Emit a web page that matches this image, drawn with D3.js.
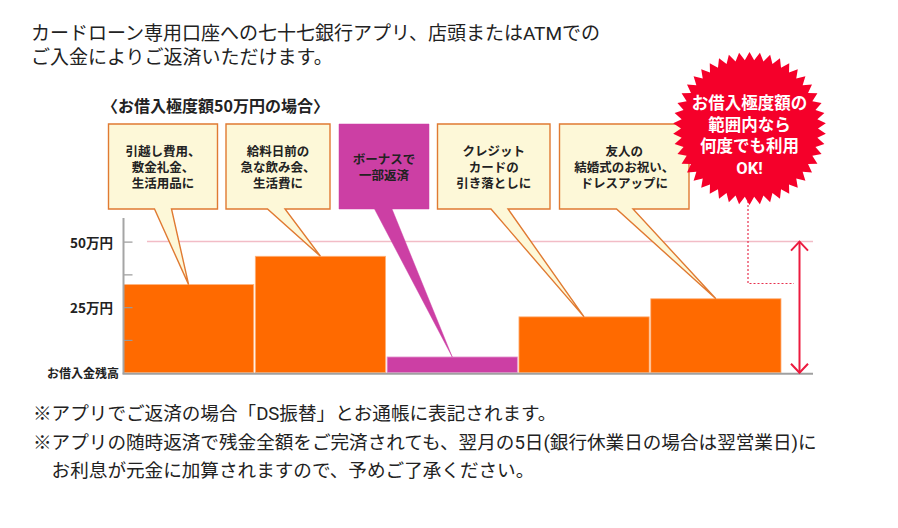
<!DOCTYPE html>
<html><head><meta charset="utf-8">
<script src="https://cdn.jsdelivr.net/npm/d3@7"></script>
<style>
html,body{margin:0;padding:0;background:#fff;}
svg{display:block;font-family:"Noto Sans CJK JP","Noto Sans",sans-serif;}
.ml{font-family:Roboto,"Noto Sans CJK JP",sans-serif;}
</style></head>
<body>
<svg id="c" width="898" height="528"></svg>
<script>
// ---- data ----
const categories = ["引越し", "給料日前", "ボーナス", "クレジット", "友人"];
const balances = [33.6, 44.4, 6.0, 21.3, 28.2];   // 万円
const barKinds = ["borrow", "borrow", "repay", "borrow", "borrow"];
const calloutTexts = [
  ["引越し費用、", "敷金礼金、", "生活用品に"],
  ["給料日前の", "急な飲み会、", "生活費に"],
  ["ボーナスで", "一部返済"],
  ["クレジット", "カードの", "引き落としに"],
  ["友人の", "結婚式のお祝い、", "ドレスアップに"]
];
const limitValue = 50;
const tickValues = [12.5, 25, 37.5, 50];
const tickLabels = {25: "25万円", 50: "50万円"};
const zeroLabel = "お借入金残高";
const titleLines = ["カードローン専用口座への七十七銀行アプリ、店頭またはATMでの", "ご入金によりご返済いただけます。"];
const subtitle = "〈お借入極度額50万円の場合〉";
const burstLines = ["お借入極度額の", "範囲内なら", "何度でも利用", "OK!"];
const noteLines = [
  "※アプリでご返済の場合「DS振替」とお通帳に表記されます。",
  "※アプリの随時返済で残金全額をご完済されても、翌月の5日(銀行休業日の場合は翌営業日)に",
  "　お利息が元金に加算されますので、予めご了承ください。"
];

// ---- layout ----
const svg = d3.select("#c");
const colors = {borrow: "#ff6a00", repay: "#cc3fa4"};
const x = d3.scaleBand().domain(categories).range([123.5, 781]).paddingInner(0.012).paddingOuter(0);
const y = d3.scaleLinear().domain([0, 59]).range([372.7, 218]);

// helper: multi-line text as one text element with tspans
function multiText(g, lines, x0, y0, dy, attrs) {
  const t = g.append("text").attr("class", "ml").attr("dominant-baseline", "central");
  Object.entries(attrs).forEach(([k, v]) => t.attr(k, v));
  t.selectAll("tspan").data(lines).join("tspan")
    .attr("x", x0).attr("y", (d, i) => y0 + i * dy)
    .attr("dominant-baseline", "central")
    .text(d => d);
  return t;
}

// title
multiText(svg, titleLines, 31, 33, 24, {"font-size": 19, "fill": "#222"});

svg.append("text").attr("x", 102).attr("y", 105).attr("dominant-baseline", "central")
  .attr("font-size", 16).attr("font-weight", "bold").attr("fill", "#222").text(subtitle);

// limit line
svg.append("line").attr("x1", 147).attr("x2", 813)
  .attr("y1", y(limitValue)).attr("y2", y(limitValue))
  .attr("stroke", "#f2bcc6").attr("stroke-width", 1.5);

// bars
svg.append("g").selectAll("rect").data(balances).join("rect")
  .attr("x", (d, i) => x(categories[i]))
  .attr("y", d => y(d))
  .attr("width", x.bandwidth())
  .attr("height", d => y(0) - y(d))
  .attr("fill", (d, i) => colors[barKinds[i]])
  .attr("stroke", (d, i) => barKinds[i] === "borrow" ? "#ffb27a" : "#e49ad0")
  .attr("stroke-width", 0.8);

// axes
const axisG = svg.append("g").attr("transform", `translate(${x.range()[0]},0)`);
axisG.call(d3.axisRight(y).tickValues(tickValues).tickSize(9).tickFormat(""))
  .call(g => g.select(".domain").remove())
  .call(g => g.selectAll(".tick line").attr("stroke", "#999").attr("stroke-width", 1.2));
axisG.append("line").attr("x1", 0).attr("x2", 0).attr("y1", y.range()[1]).attr("y2", y(0) + 1)
  .attr("stroke", "#a5a5a5").attr("stroke-width", 2);
svg.append("line").attr("x1", x.range()[0] - 1).attr("x2", 813).attr("y1", y(0) + 1).attr("y2", y(0) + 1)
  .attr("stroke", "#a0a0a0").attr("stroke-width", 2);

// y labels
svg.append("g").selectAll("text").data(tickValues.filter(v => tickLabels[v])).join("text")
  .attr("x", 113).attr("y", d => y(d)).attr("text-anchor", "end").attr("dominant-baseline", "central")
  .attr("font-size", 13.5).attr("font-weight", "bold").attr("fill", "#222").text(d => tickLabels[d]);
svg.append("text").attr("x", 119).attr("y", y(0)).attr("text-anchor", "end").attr("dominant-baseline", "central")
  .attr("font-size", 12).attr("font-weight", "bold").attr("fill", "#222").text(zeroLabel);

// callouts
const boxTop = 124, boxBottom = 209;
const boxes = [
  {x0: 108.5, x1: 217.5, t0: 154.5, t1: 171.5},
  {x0: 226, x1: 330, t0: 267.5, t1: 285},
  {x0: 339, x1: 429, t0: 374.5, t1: 392},
  {x0: 437.5, x1: 550, t0: 491, t1: 508},
  {x0: 559.5, x1: 689, t0: 616.5, t1: 633}
];
const cg = svg.append("g");
boxes.forEach((b, i) => {
  const tipX = x(categories[i]) + x.bandwidth() / 2;
  const tipY = y(balances[i]);
  const repay = barKinds[i] === "repay";
  const p = `M${b.x0},${boxTop}H${b.x1}V${boxBottom}H${b.t1}L${tipX},${tipY}L${b.t0},${boxBottom}H${b.x0}Z`;
  cg.append("path").attr("d", p)
    .attr("fill", repay ? colors.repay : "#fdf8d8")
    .attr("stroke", repay ? colors.repay : "#e07a32")
    .attr("stroke-width", repay ? 0.5 : 1.4)
    .attr("stroke-linejoin", "miter");
  const lines = calloutTexts[i];
  const cy = (boxTop + boxBottom) / 2;
  multiText(cg, lines, (b.x0 + b.x1) / 2, cy - (lines.length - 1) / 2 * 16, 16,
    {"text-anchor": "middle", "font-size": 12.5, "font-weight": "bold", "fill": "#222"});
});

// starburst
const bcx = 749.5, bcy = 128.5, rOut = 76.5, rIn = 68.5, nSpikes = 46;
const pts = d3.range(nSpikes * 2).map(k => {
  const a = -Math.PI / 2 + k * Math.PI / nSpikes;
  const r = k % 2 === 0 ? rOut : rIn;
  return [bcx + r * Math.cos(a), bcy + r * Math.sin(a)];
});

// dotted connector
svg.append("path")
  .attr("d", `M${bcx - 1.5},${bcy + rIn}V283.5H794`)
  .attr("fill", "none").attr("stroke", "#e8304e").attr("stroke-width", 1.2).attr("stroke-dasharray", "2,2");

svg.append("path").attr("d", "M" + pts.join("L") + "Z").attr("fill", "#f5002a");
multiText(svg, burstLines, bcx, 103, 21.5,
  {"text-anchor": "middle", "font-size": 16.5, "font-weight": "bold", "fill": "#fff"});

// double arrow for limit
const ax = 799.5, ya = y(limitValue), yb = y(0);
const ag = svg.append("g").attr("stroke", "#ec1b3f").attr("stroke-width", 2).attr("fill", "none");
ag.append("line").attr("x1", ax).attr("x2", ax).attr("y1", ya).attr("y2", yb);
ag.append("path").attr("d", `M${ax - 8.5},${ya + 9}L${ax},${ya}L${ax + 8.5},${ya + 9}`);
ag.append("path").attr("d", `M${ax - 8.5},${yb - 9}L${ax},${yb}L${ax + 8.5},${yb - 9}`);

// notes
multiText(svg, noteLines, 33, 414, 28.5, {"font-size": 18.6, "fill": "#222"});
</script>
</body></html>
